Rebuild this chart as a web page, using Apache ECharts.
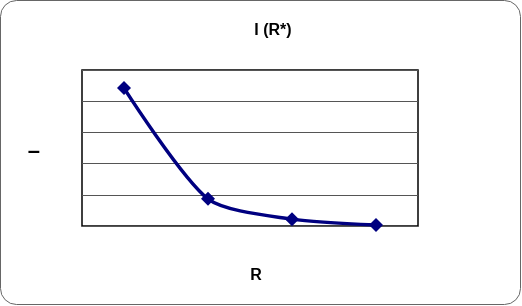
<!DOCTYPE html>
<html><head><meta charset="utf-8">
<script src="https://cdn.jsdelivr.net/npm/echarts@6/dist/echarts.min.js"></script>
<style>html,body{margin:0;padding:0;background:#fff}#c{width:522px;height:306px}</style>
</head><body><div id="c"></div>
<script>
const categories = ['1', '2', '3', '4'];
const values = [4.42, 0.87, 0.22, 0.03];
const titleText = 'I (R*)';
const xName = 'R';
const yName = '–';
const chart = echarts.init(document.getElementById('c'));
chart.setOption({
  animation: false,
  backgroundColor: '#fff',
  title: { text: titleText, left: 268, top: 18, textAlign: 'center',
    textStyle: { fontFamily: 'Liberation Sans, Arial', fontSize: 16, fontWeight: 'bold', color: '#000' } },
  graphic: [{ type: 'rect', shape: { x: 0.5, y: 0.5, width: 520, height: 304, r: 16 },
    style: { fill: 'none', stroke: '#666', lineWidth: 1 }, z: 100 }],
  grid: { left: 82, top: 70, width: 336, height: 156, show: true, borderColor: '#000', borderWidth: 1.5, backgroundColor: 'transparent' },
  xAxis: { type: 'category', data: categories, boundaryGap: true,
    name: xName, nameLocation: 'middle', nameGap: 42,
    nameTextStyle: { fontFamily: 'Liberation Sans, Arial', fontSize: 16, fontWeight: 'bold', color: '#000', padding: [0, 0, 0, 12] },
    axisLine: { show: false }, axisTick: { show: false }, axisLabel: { show: false }, splitLine: { show: false } },
  yAxis: { type: 'value', min: 0, max: 5, interval: 1,
    name: yName, nameLocation: 'middle', nameRotate: 0, nameGap: 42,
    nameTextStyle: { fontFamily: 'Liberation Sans, Arial', fontSize: 22, fontWeight: 'bold', color: '#000', verticalAlign: 'top', lineHeight: 8 },
    axisLine: { show: false }, axisTick: { show: false }, axisLabel: { show: false },
    splitLine: { show: true, lineStyle: { color: '#555', width: 1 } } },
  series: [{ type: 'line', data: values, smooth: 0.25, symbol: 'diamond', symbolSize: 14,
    lineStyle: { color: '#000080', width: 3.5 }, itemStyle: { color: '#000080' }, z: 10 }]
});
</script></body></html>
